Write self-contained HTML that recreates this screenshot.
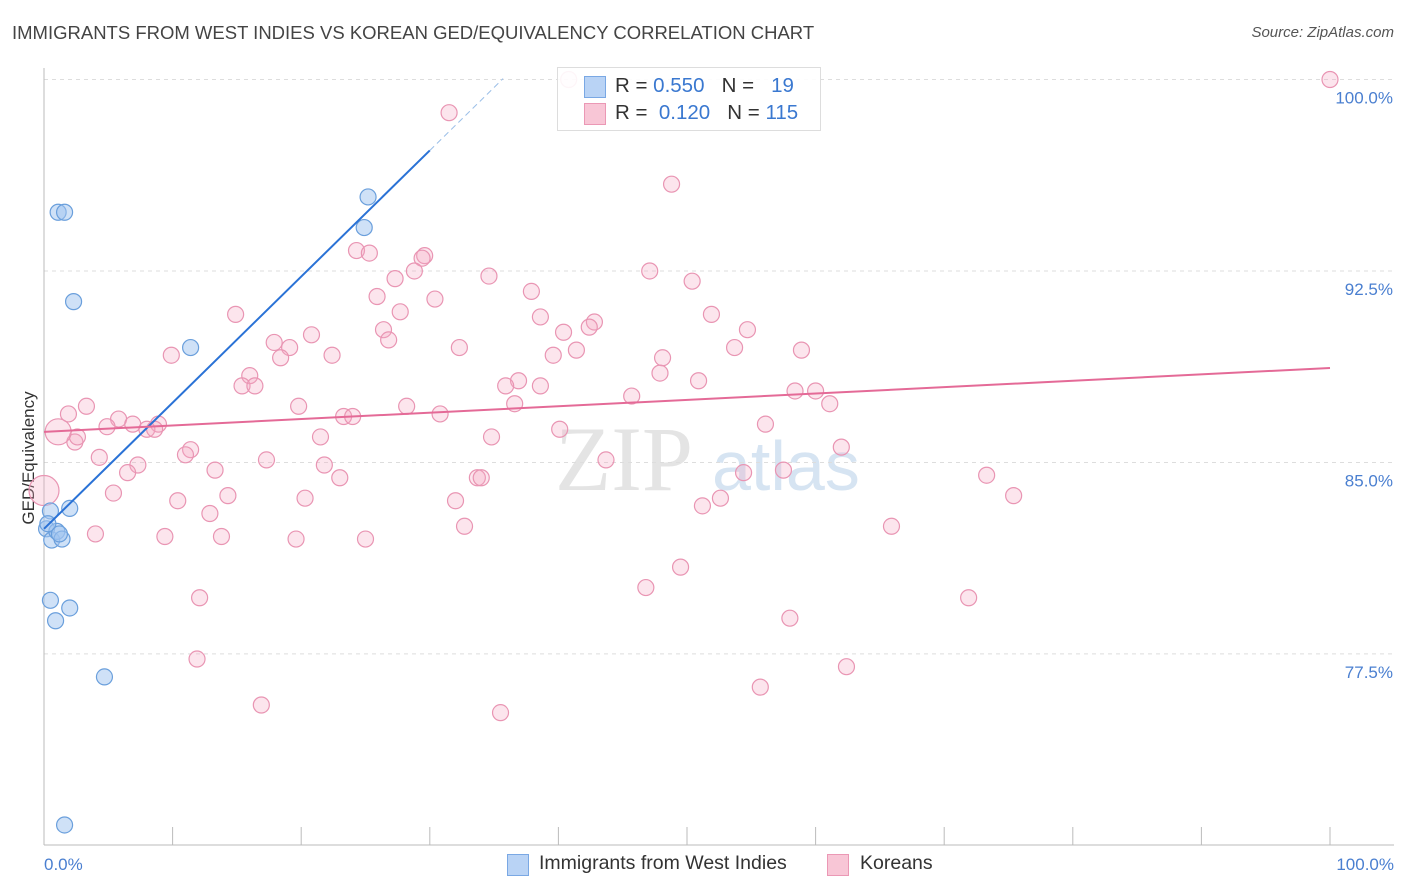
<!DOCTYPE html>
<html><head><meta charset="utf-8">
<style>
body{margin:0;background:#fff;font-family:"Liberation Sans",sans-serif;}
#wrap{position:relative;width:1406px;height:892px;overflow:hidden;}
.t{position:absolute;white-space:nowrap;}
</style></head>
<body>
<div id="wrap">
<div class="t" style="left:12px;top:22px;font-size:18.5px;color:#444;">IMMIGRANTS FROM WEST INDIES VS KOREAN GED/EQUIVALENCY CORRELATION CHART</div>
<div class="t" style="right:12px;top:24px;font-size:15px;color:#555;font-style:italic;">Source: ZipAtlas.com</div>
<svg id="svg" width="1406" height="892" style="position:absolute;left:0;top:0"></svg>
</div>
<script>
const xTicks=[0,10,20,30,40,50,60,70,80,90,100];
const yTicks=[77.5,85,92.5,100];
const yTickLabels=["77.5%","85.0%","92.5%","100.0%"];
const blueX=[0.5,0.2,0.6,1.0,1.4,2.0,1.1,1.6,2.3,11.4,25.2,24.9,0.5,0.9,2.0,4.7,1.6,0.3,1.2];
const blueY=[83.1,82.4,81.96,82.3,82.0,83.2,94.8,94.8,91.3,89.5,95.4,94.2,79.6,78.8,79.3,76.6,70.8,82.6,82.2];
const pinkX=[40.8,100,31.5,48.8,24.3,25.3,29.6,29.4,47.1,34.6,28.8,27.3,50.4,37.9,25.9,30.4,14.9,27.7,38.6,51.9,42.8,42.4,26.4,54.7,20.8,40.4,17.9,19.1,26.8,32.3,53.7,58.9,9.9,22.4,18.4,39.6,41.4,48.1,47.9,16.0,15.4,16.4,36.9,35.9,38.6,50.9,45.7,58.4,60.0,61.1,3.3,19.8,28.2,36.6,30.8,1.9,23.3,24.0,5.8,6.9,4.9,8.9,8.0,8.6,2.4,2.6,56.1,40.1,21.5,34.8,11.4,11.0,4.3,17.3,43.7,62.0,7.3,6.5,13.3,21.8,54.4,57.5,33.7,34.0,23.0,73.3,5.4,14.3,20.3,52.6,75.4,32.0,10.4,51.2,12.9,65.9,32.7,4.0,9.4,13.8,19.6,25.0,49.5,46.8,12.1,71.9,58.0,11.9,62.4,55.7,16.9,35.5,0,1.1];
const pinkY=[100,100,98.7,95.9,93.3,93.2,93.1,93.0,92.5,92.3,92.5,92.2,92.1,91.7,91.5,91.4,90.8,90.9,90.7,90.8,90.5,90.3,90.2,90.2,90.0,90.1,89.7,89.5,89.8,89.5,89.5,89.4,89.2,89.2,89.1,89.2,89.4,89.1,88.5,88.4,88.0,88.0,88.2,88.0,88.0,88.2,87.6,87.8,87.8,87.3,87.2,87.2,87.2,87.3,86.9,86.9,86.8,86.8,86.7,86.5,86.4,86.5,86.3,86.3,85.8,86.0,86.5,86.3,86.0,86.0,85.5,85.3,85.2,85.1,85.1,85.6,84.9,84.6,84.7,84.9,84.6,84.7,84.4,84.4,84.4,84.5,83.8,83.7,83.6,83.6,83.7,83.5,83.5,83.3,83.0,82.5,82.5,82.2,82.1,82.1,82.0,82.0,80.9,80.1,79.7,79.7,78.9,77.3,77.0,76.2,75.5,75.2,83.9,86.2];
const pinkBig=[0,0,0,0,0,0,0,0,0,0,0,0,0,0,0,0,0,0,0,0,0,0,0,0,0,0,0,0,0,0,0,0,0,0,0,0,0,0,0,0,0,0,0,0,0,0,0,0,0,0,0,0,0,0,0,0,0,0,0,0,0,0,0,0,0,0,0,0,0,0,0,0,0,0,0,0,0,0,0,0,0,0,0,0,0,0,0,0,0,0,0,0,0,0,0,0,0,0,0,0,0,0,0,0,0,0,0,0,0,0,0,0,1,1];
const blueLine=[82.4,0.494];
const pinkLine=[86.2,0.025];
const NS="http://www.w3.org/2000/svg";
const svg=document.getElementById('svg');
const X=v=>44+v*12.86;
const Y=v=>79.5+(100-v)*25.53;
function mk(t,a){const e=document.createElementNS(NS,t);for(const k in a)e.setAttribute(k,a[k]);svg.appendChild(e);return e;}
let wm=mk('text',{x:555,y:490,'font-size':92,fill:'#e4e4e4','font-family':'Liberation Serif'});wm.textContent='ZIP';


let wm2=mk('text',{x:712,y:490,'font-size':70,fill:'#d6e4f2','font-family':'Liberation Sans'});wm2.textContent='atlas';


yTicks.forEach((v,i)=>{
 let g=mk('line',{x1:44,x2:1394,y1:Y(v),y2:Y(v),stroke:'#ddd','stroke-dasharray':'4,4'});
 
 
 let t=mk('text',{x:1393,y:Y(v)+24,'text-anchor':'end','font-size':17,fill:'#4a7fd0'});t.textContent=yTickLabels[i];
 
 
});
let ax=mk('line',{x1:44,x2:44,y1:68,y2:845,stroke:'#bbb'});


let bx=mk('line',{x1:44,x2:1394,y1:845,y2:845,stroke:'#bbb'});


xTicks.forEach(v=>{let l=mk('line',{x1:X(v),x2:X(v),y1:827,y2:845,stroke:'#bbb'});
 
 });
[[0,'0.0%','start',44],[100,'100.0%','end',1394]].forEach(a=>{let t=mk('text',{x:a[3],y:870,'text-anchor':a[2],'font-size':17,fill:'#4a7fd0'});t.textContent=a[1];
 
 });
let yt=mk('text',{x:34,y:458,'text-anchor':'middle','font-size':17,fill:'#333',transform:'rotate(-90 34 458)'});yt.textContent='GED/Equivalency';


pinkX.forEach((x,i)=>{let r=pinkBig[i]?(i==pinkX.length-2?15:13):8;
 let c=mk('circle',{cx:X(x),cy:Y(pinkY[i]),r:r,fill:'rgba(245,170,195,0.3)',stroke:'#e995b3','stroke-width':1.2});
 
 });
blueX.forEach((x,i)=>{let c=mk('circle',{cx:X(x),cy:Y(blueY[i]),r:8,fill:'rgba(160,196,240,0.5)',stroke:'#6a9fdc','stroke-width':1.2});
 
 });
let bl=mk('line',{x1:X(0),y1:Y(blueLine[0]),x2:X(30),y2:Y(blueLine[0]+blueLine[1]*30),stroke:'#2a72d6','stroke-width':2});


let bd=mk('line',{x1:X(30),y1:Y(blueLine[0]+blueLine[1]*30),x2:X(35.7),y2:Y(blueLine[0]+blueLine[1]*35.7),stroke:'#9bbfe8','stroke-width':1,'stroke-dasharray':'6,4'});


let pl=mk('line',{x1:X(0),y1:Y(pinkLine[0]),x2:X(100),y2:Y(pinkLine[0]+pinkLine[1]*100),stroke:'#e46a97','stroke-width':2});


</script>
<div style="position:absolute;left:557px;top:67px;width:262px;height:62px;border:1px solid #ddd;background:rgba(255,255,255,0.9);font-size:20.5px;color:#333;">
 <div style="position:absolute;left:26px;top:8px;width:20px;height:20px;background:#b9d3f5;border:1px solid #7aa8e4;"></div>
 <div class="t" style="left:57px;top:6px;">R = <span style="color:#3a78d0">0.550</span>&nbsp;&nbsp;&nbsp;N = &nbsp;&nbsp;<span style="color:#3a78d0">19</span></div>
 <div style="position:absolute;left:26px;top:35px;width:20px;height:20px;background:#f8c6d6;border:1px solid #eb98b5;"></div>
 <div class="t" style="left:57px;top:33px;">R = &nbsp;<span style="color:#3a78d0">0.120</span>&nbsp;&nbsp;&nbsp;N = <span style="color:#3a78d0">115</span></div>
</div>
<div style="position:absolute;left:0;top:852px;width:1406px;height:26px;font-size:19.5px;color:#333;">
 <div style="position:absolute;left:507px;top:2px;width:20px;height:20px;background:#b9d3f5;border:1px solid #7aa8e4;"></div>
 <div class="t" style="left:539px;top:0px;">Immigrants from West Indies</div>
 <div style="position:absolute;left:827px;top:2px;width:20px;height:20px;background:#f8c6d6;border:1px solid #eb98b5;"></div>
 <div class="t" style="left:860px;top:0px;">Koreans</div>
</div>
</body></html>
